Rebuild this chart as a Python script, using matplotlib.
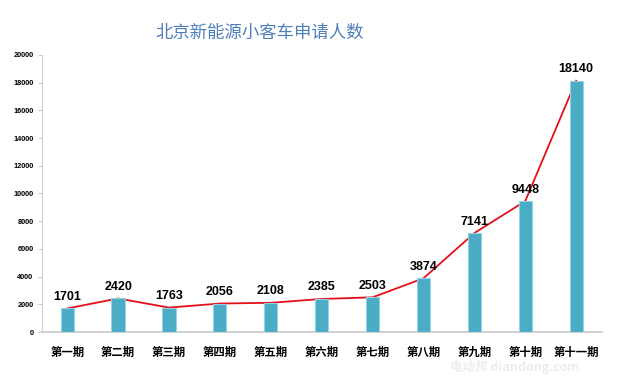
import matplotlib
matplotlib.use("Agg")
import matplotlib.pyplot as plt

categories = ["第一期", "第二期", "第三期", "第四期", "第五期", "第六期",
              "第七期", "第八期", "第九期", "第十期", "第十一期"]
values = [1701, 2420, 1763, 2056, 2108, 2385, 2503, 3874, 7141, 9448, 18140]
yticks = [0, 2000, 4000, 6000, 8000, 10000, 12000, 14000, 16000, 18000, 20000]
title = "北京新能源小客车申请人数"

plt.rcParams['font.family'] = ['Noto Sans CJK SC', 'DejaVu Sans']

fig = plt.figure(figsize=(6.2, 3.76), dpi=100)
ax = fig.add_axes([0.0673, 0.117, 0.903, 0.737])

x = list(range(len(categories)))
ax.plot(x, values, color='#e3101a', linewidth=1.3, zorder=2)
ax.bar(x, values, width=0.26, color='#4BACC6', edgecolor='#93d3e3',
       linewidth=0.8, zorder=3)

for xi, v in zip(x, values):
    ax.annotate(str(v), (xi, v), xytext=(0, 4), textcoords='offset points',
                ha='center', va='bottom', fontsize=9, fontweight='bold',
                family=['Liberation Sans', 'DejaVu Sans'], color='black', zorder=4)

ax.set_xlim(-0.5, 10.5)
ax.set_ylim(0, 20000)
ax.set_yticks(yticks)
ax.set_yticklabels([str(t) for t in yticks], fontsize=5.3, fontweight='bold',
                   family=['Liberation Sans', 'DejaVu Sans'])
ax.set_xticks(x)
ax.set_xticklabels(categories, fontsize=8.2, fontweight='bold')
ax.tick_params(axis='x', length=0, pad=10)
ax.tick_params(axis='y', length=3, width=0.6, color='#bfbfbf', pad=3)

for s in ['top', 'right']:
    ax.spines[s].set_visible(False)
ax.spines['left'].set_color('#d0d0d0')
ax.spines['left'].set_linewidth(0.8)
ax.spines['bottom'].set_color('#c8c8c8')
ax.spines['bottom'].set_linewidth(1.2)

fig.text(0.418, 0.912, title, ha='center', va='center', fontsize=12.5,
         fontweight='medium', color='#4f7fb8')

fig.text(0.83, 0.025, "电动邦 diandong.com", ha='center', va='center',
         fontsize=9, fontstyle='italic', fontweight='bold', color='#ededed')

fig.savefig("out.png", dpi=100)
